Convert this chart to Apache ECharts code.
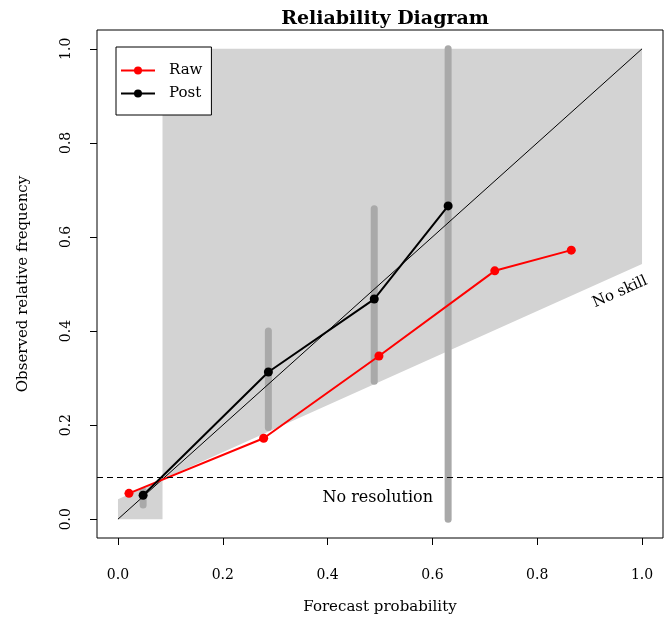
<!DOCTYPE html>
<html>
<head>
<meta charset="utf-8">
<title>Reliability Diagram</title>
<script src="https://cdn.jsdelivr.net/npm/echarts@6/dist/echarts.min.js"></script>
<style>
  html, body { margin: 0; padding: 0; background: #fff; }
  #chart { width: 664px; height: 624px; }
</style>
</head>
<body>
<div id="chart"></div>
<script>
// forecast probability bins and observed frequencies
var rawX = [0.021, 0.278, 0.498, 0.719, 0.865];
var rawY = [0.055, 0.172, 0.347, 0.528, 0.572];
var postX = [0.048, 0.287, 0.489, 0.630];
var postY = [0.051, 0.313, 0.468, 0.666];
// grey error bars on the post points
var ciLo = [0.030, 0.195, 0.293, 0.0];
var ciHi = [0.060, 0.400, 0.660, 1.0];
// climatology (no resolution line)
var clim = 0.085;
var xTicks = [0, 0.2, 0.4, 0.6, 0.8, 1.0];
var yTicks = [0, 0.2, 0.4, 0.6, 0.8, 1.0];

var serif = 'DejaVu Serif';

// skill area, same shape as verification::reliability.plot
var skillA = (1 - clim) / 2 + clim;
var skillB = clim / 2;
var polyX = [clim, clim, 1, 1, 0, 0];
var polyY = [0, 1, 1, skillA, skillB, 0];

var chart = echarts.init(document.getElementById('chart'));

var option = {
    animation: false,
    backgroundColor: '#fff',
    title: {
        text: 'Reliability Diagram',
        left: 380,
        top: 5,
        textAlign: 'center',
        textStyle: { fontFamily: serif, fontWeight: 'bold', fontSize: 19, color: '#000' }
    },
    legend: {
        data: ['Raw', 'Post'],
        orient: 'vertical',
        left: 116,
        top: 47,
        padding: [16, 9, 14, 4],
        itemGap: 8,
        itemWidth: 34,
        itemHeight: 10,
        borderColor: '#000',
        borderWidth: 1,
        backgroundColor: '#fff',
        textStyle: { fontFamily: serif, fontSize: 15, color: '#000', padding: [0, 0, 0, 9] }
    },
    grid: {
        left: 97,
        right: 1,
        top: 30,
        bottom: 86,
        show: true,
        borderColor: '#000',
        borderWidth: 1,
        backgroundColor: 'transparent'
    },
    xAxis: {
        type: 'value',
        min: -0.04,
        max: 1.04,
        name: 'Forecast probability',
        nameLocation: 'middle',
        nameGap: 62,
        nameTextStyle: { fontFamily: serif, fontSize: 15, color: '#000' },
        axisLine: { show: false, onZero: false },
        splitLine: { show: false },
        axisTick: { show: true, customValues: xTicks, length: 7, lineStyle: { color: '#000' } },
        axisLabel: {
            customValues: xTicks,
            margin: 30,
            fontFamily: serif,
            fontSize: 14,
            color: '#000',
            formatter: function (v) { return v.toFixed(1); }
        }
    },
    yAxis: {
        type: 'value',
        min: -0.04,
        max: 1.04,
        name: 'Observed relative frequency',
        nameLocation: 'middle',
        nameGap: 66,
        nameRotate: 90,
        nameTextStyle: { fontFamily: serif, fontSize: 15, color: '#000' },
        axisLine: { show: false, onZero: false },
        splitLine: { show: false },
        axisTick: { show: true, customValues: yTicks, length: 7, lineStyle: { color: '#000' } },
        axisLabel: {
            customValues: yTicks,
            rotate: 90,
            margin: 24,
            fontFamily: serif,
            fontSize: 14,
            color: '#000',
            formatter: function (v) { return v.toFixed(1); }
        }
    },
    series: [
        {
            name: 'skill',
            type: 'custom',
            silent: true,
            data: [[0, 0]],
            renderItem: function (params, api) {
                var pts = polyX.map(function (x, i) { return api.coord([x, polyY[i]]); });
                return {
                    type: 'polygon',
                    shape: { points: pts },
                    style: { fill: '#d3d3d3', stroke: null }
                };
            }
        },
        {
            name: 'ci',
            type: 'custom',
            silent: true,
            data: postX.map(function (x, i) { return [x, ciLo[i], ciHi[i]]; }),
            renderItem: function (params, api) {
                var p1 = api.coord([api.value(0), api.value(1)]);
                var p2 = api.coord([api.value(0), api.value(2)]);
                return {
                    type: 'line',
                    shape: { x1: p1[0], y1: p1[1], x2: p2[0], y2: p2[1] },
                    style: { stroke: '#a9a9a9', lineWidth: 7, lineCap: 'round' }
                };
            }
        },
        {
            name: 'perfect',
            type: 'line',
            data: [[0, 0], [1, 1]],
            symbol: 'none',
            lineStyle: { color: '#000', width: 1 },
            markLine: {
                silent: true,
                symbol: 'none',
                label: { show: false },
                lineStyle: { color: '#000', width: 1, type: [6, 4] },
                data: [{ yAxis: clim }]
            }
        },
        {
            name: 'Raw',
            type: 'line',
            data: rawX.map(function (x, i) { return [x, rawY[i]]; }),
            symbol: 'circle',
            symbolSize: 9,
            itemStyle: { color: '#ff0000' },
            lineStyle: { color: '#ff0000', width: 2 }
        },
        {
            name: 'Post',
            type: 'line',
            data: postX.map(function (x, i) { return [x, postY[i]]; }),
            symbol: 'circle',
            symbolSize: 9,
            itemStyle: { color: '#000' },
            lineStyle: { color: '#000', width: 2 }
        }
    ],
    graphic: [
        {
            type: 'text', left: 220, top: 60,
            style: { text: 'Area: Zone Specific', font: '16px "DejaVu Serif"', fill: '#000' }
        },
        {
            type: 'text', left: 220, top: 83,
            style: { text: 'Threshold: 0.90in.', font: '16px "DejaVu Serif"', fill: '#000' }
        },
        {
            type: 'text', right: 231, top: 490,
            style: { text: 'No resolution', font: '16px "DejaVu Serif"', fill: '#000' }
        },
        {
            type: 'text', x: 620, y: 292, rotation: 24 * Math.PI / 180,
            style: { text: 'No skill', font: '15px "DejaVu Serif"', fill: '#000', align: 'center', verticalAlign: 'middle' }
        }
    ]
};

chart.setOption(option);
</script>
</body>
</html>
